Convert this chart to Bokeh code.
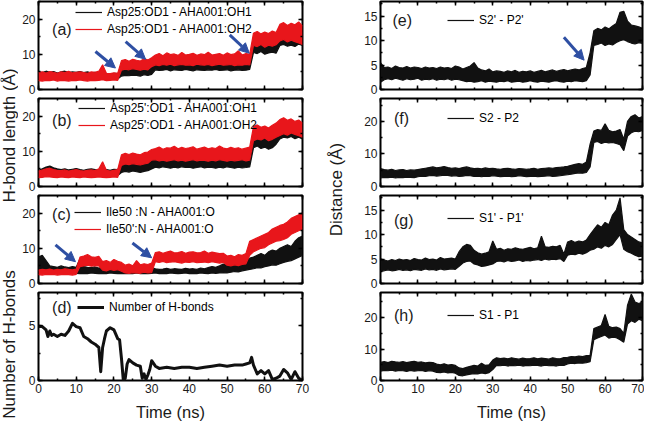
import numpy as np
from bokeh.plotting import figure
from bokeh.models import (LinearAxis, SingleIntervalTicker, Range1d, Legend,
                          LegendItem, Label, Arrow, NormalHead, ColumnDataSource)
from bokeh.layouts import row, column
from bokeh.embed import file_html
from bokeh.resources import INLINE

# ---------------- data (1 ns sampling) ----------------
time_ns = list(range(71))

# (a) Asp25:OD1 - AHA001:OH1 (black), OH2 (red): band low / high
a_oh1_lo = ([3.2,3.0,3.3,3.1,3.4,3.2,3.0,3.3,3.1,3.2,3.0,3.3,3.1,3.2,3.0,3.2]
            + [3.0,3.1,2.9,3.0,3.1,3.0]
            + [3.8,4.0,3.9,4.1,4.0,3.8,4.2,4.0,4.3]
            + [5.6,5.4,5.5,5.7,5.3,5.6,5.5,5.4,5.7,5.5,5.3,5.6,5.5,5.4,5.6,5.5,5.7,5.4,5.5,5.6,5.3,5.5,5.6,5.4,5.5,5.7]
            + [10.5,10.2,10.8,10.0,10.4,10.6,10.3]
            + [12.5,12.8,12.3,12.6,12.2,12.9,12.5])
a_oh1_hi = ([5.0,4.8,5.2,4.9,5.1,4.7,5.0,5.2,4.8,5.0,4.9,5.1,4.8,5.0,4.7,4.9]
            + [4.6,4.8,4.5,4.4,4.6,4.5]
            + [5.8,6.2,6.0,6.3,5.9,6.1,6.4,6.0,6.2]
            + [7.6,7.4,7.8,7.5,7.7,7.3,7.6,7.5,7.8,7.4,7.6,7.5,7.7,7.3,7.6,7.8,7.5,7.4,7.6,7.7,7.5,7.3,7.6,7.8,7.5,7.6]
            + [13.5,13.8,13.2,14.0,13.6,13.4,13.9]
            + [15.5,16.2,15.8,16.5,15.6,16.0,16.3])
a_oh2_lo = ([2.5,2.4,2.6,2.5,2.7,2.4,2.6,2.5,2.4,2.6,2.5,2.7,2.5,2.4,2.6,2.5]
            + [2.6,2.8,2.5,2.6,2.7,2.6]
            + [5.5,5.8,5.6,5.9,5.7,5.5,5.8,5.6,6.5]
            + [7.0,6.8,7.1,6.9,7.2,6.8,7.0,7.1,6.9,7.0,6.8,7.2,7.0,6.9,7.1,6.8,7.0,7.2,6.9,7.0,7.1,6.8,7.0,6.9,7.1,7.0]
            + [12.5,12.2,12.8,12.0,12.6,12.3,12.7]
            + [13.8,14.2,13.5,14.0,13.6,13.2,12.8])
a_oh2_hi = ([4.8,5.0,4.7,5.1,4.9,4.6,5.0,4.8,5.2,4.7,4.9,5.0,4.8,4.6,5.0,4.9]
            + [5.2,7.0,4.6,4.5,4.7,4.6]
            + [8.2,8.5,8.0,8.6,8.3,8.1,8.7,8.4,9.0]
            + [9.8,10.2,9.6,10.4,9.9,10.1,9.7,10.5,9.8,10.0,10.3,9.7,10.1,9.9,10.6,9.8,10.0,10.2,9.7,10.4,9.9,10.1,11.0,9.8,10.2,10.0]
            + [16.0,16.5,15.8,16.3,15.9,16.6,16.2]
            + [18.5,19.0,18.2,18.8,18.4,19.2,18.0])

# (b) Asp25':OD1 - AHA001:OH1 (black), OH2 (red)
b_oh1_lo = ([2.8,3.0,3.2,3.3,3.1,3.0,3.2,2.9,3.1,3.0,3.2,3.1,2.9,3.0,3.2,3.1,3.0,3.2,3.1,2.9,3.0,3.1]
            + [4.0,4.3,4.1,4.4,4.2,4.0,4.3,4.5,5.0]
            + [5.5,5.3,5.6,5.4,5.2,5.5,5.3,5.6,5.4,5.5,5.2,5.4,5.6,5.3,5.5,5.4,5.2,5.5,5.3,5.6,5.4,5.2,5.5,5.3,5.4,5.6]
            + [11.0,11.5,10.8,11.2,10.6,11.0,12.0]
            + [13.5,14.0,13.8,14.2,13.6,14.0,13.5])
b_oh1_hi = ([4.5,5.0,5.5,5.8,5.3,5.0,4.8,5.0,4.7,4.9,5.1,4.8,4.6,4.9,5.0,4.8,4.7,5.0,4.8,4.6,4.9,4.8]
            + [6.5,7.0,6.6,6.9,6.7,6.4,6.8,7.0,7.5]
            + [8.4,8.2,8.6,8.1,8.5,8.3,8.0,8.4,8.2,8.6,8.3,8.1,8.5,8.2,8.4,8.0,8.3,8.5,8.1,8.4,8.2,8.0,8.3,8.5,8.1,8.2]
            + [14.5,15.0,14.2,14.8,14.0,14.6,15.5]
            + [16.5,17.0,16.8,17.2,16.6,16.9,16.5])
b_oh2_lo = ([2.5,2.6,2.8,2.7,2.6,2.5,2.7,2.6,2.5,2.7,2.6,2.5,2.7,2.6,2.5,2.6,2.7,2.6,2.5,2.6,2.7,2.6]
            + [6.0,6.4,6.2,6.5,6.3,6.1,6.4,6.6,7.5]
            + [7.6,7.3,7.5,7.2,7.4,7.6,7.3,7.5,7.2,7.4,7.6,7.3,7.5,7.4,7.2,7.5,7.3,7.6,7.4,7.2,7.5,7.3,7.4,7.6,7.3,7.5]
            + [13.0,13.5,13.2,13.8,13.0,13.4,14.0]
            + [14.5,15.0,14.6,15.2,14.8,14.4,14.0])
b_oh2_hi = ([4.4,4.7,5.0,5.2,4.8,4.6,4.5,4.7,4.4,4.6,4.8,4.5,4.4,4.6,4.7,4.5,5.0,7.0,4.6,4.4,4.6,4.8]
            + [9.0,9.4,9.1,9.5,9.2,9.0,9.6,9.8,10.5]
            + [10.8,11.2,10.6,11.0,10.9,11.4,10.7,11.1,10.8,11.0,11.3,10.6,10.9,11.2,10.7,11.0,10.8,11.5,10.9,10.7,11.1,10.8,11.0,10.6,10.9,11.2]
            + [17.0,17.5,16.8,17.2,16.6,17.4,18.0]
            + [19.0,19.5,18.8,19.2,18.5,18.9,18.0])

# (c) Ile50 :N - AHA001:O (black), Ile50':N - AHA001:O (red)
c_ile50_lo = ([3.5,3.2,3.0,2.9,3.0,2.8,3.0,2.9,2.8,3.0,2.9]
              + [2.8,2.9,2.8,3.0,2.9,2.8,2.9,2.8,3.0,2.9,2.8,2.9]
              + [2.8,2.9,2.8,3.0,2.8,2.9,2.8,2.9,3.0,2.8,2.9,2.8,3.0,2.9,2.8,2.9,3.0,2.8,2.9,2.8,3.0,2.9,2.8,3.0,2.9,3.0,3.1,3.0]
              + [3.2,3.4,3.3,3.6,3.8,4.0,4.2,4.5,4.4,4.8,5.0,5.3,5.2,5.6,6.0,6.3,6.5,7.0,7.5,8.0])
c_ile50_hi = ([7.5,8.0,6.5,5.0,4.8,4.6,5.0,4.7,4.5,4.8,4.6]
              + [7.0,4.8,4.6,4.5,4.7,4.4,4.6,4.5,4.4,4.6,4.5,4.4]
              + [4.2,4.0,4.3,4.1,4.0,4.2,4.1,4.5,4.2,4.0,4.1,4.3,4.0,4.2,4.1,4.0,4.3,4.1,4.2,4.0,4.4,4.2,4.5,4.8,4.6,5.0,5.5,5.2]
              + [5.8,6.0,5.6,6.5,7.0,7.2,7.5,8.0,8.5,8.0,9.0,9.5,9.2,10.0,10.5,11.0,10.5,12.0,13.0,13.5])
c_ile50p_lo = ([2.5,2.4,2.6,2.5,2.6,2.4,2.5,2.6,2.5,2.4,2.6]
               + [4.8,5.0,5.2,4.9,5.1,5.0]
               + [3.8,3.6,4.0,3.7,3.9,3.5]
               + [3.0,2.9,3.1,3.0,2.9,3.2,3.0,3.1]
               + [6.2,6.0,6.3,5.9,6.1,6.2,6.0,5.8,6.1,6.0,6.2,5.9,6.0,6.1,5.9,6.2,6.0,5.8,6.0]
               + [5.2,5.0,5.3,5.1,5.4,5.6]
               + [8.0,9.0,9.5,10.0,10.2,11.0,11.5,12.0,12.2,12.5,13.0,14.0,14.5,15.0,15.5])
c_ile50p_hi = ([3.8,4.0,3.9,4.1,3.8,4.0,3.9,4.2,4.0,3.9,4.1]
               + [7.5,7.8,8.2,7.6,7.4,7.7]
               + [6.2,6.5,6.0,6.8,6.3,6.0]
               + [5.2,5.5,5.0,6.5,5.3,5.6,5.4,5.8]
               + [8.8,9.0,8.6,8.9,9.2,8.7,8.8,9.1,8.6,8.9,9.0,8.7,8.8,9.2,8.6,8.9,8.7,8.5,8.6]
               + [7.8,8.0,7.6,8.2,8.0,8.5]
               + [12.0,12.5,13.0,13.5,14.0,14.5,15.5,16.0,16.5,16.8,17.5,18.5,19.0,19.5,20.0])

# (d) Number of H-bonds
d_time = [0,1,2,2.5,3,3.5,4,5,6,7,8,9,10,11,12,13,14,15,16,16.5,17,17.5,18,19,20,21,21.5,22,22.5,23,
          23.5,24,25,26,27,27.5,28,28.5,29,29.5,30,31,32,34,36,38,40,42,44,46,48,50,52,54,55,56,56.5,57,57.5,58,
          59,60,61,62,63,64,65,66,67,68,69,70]
d_count = [4.9,4.9,4.6,4.0,4.5,4.1,4.2,4.0,4.2,4.1,4.5,5.2,4.9,4.8,4.0,3.8,3.5,3.3,3.0,0.8,3.0,3.8,4.5,4.8,4.6,3.8,3.7,2.0,0.0,0.2,
           1.5,1.9,1.6,1.4,1.3,0.2,0.6,0.1,0.5,1.0,1.8,1.3,1.1,1.2,1.1,1.2,1.2,1.1,1.2,1.3,1.4,1.3,1.4,1.4,1.5,1.6,2.1,1.4,1.0,0.6,
           0.9,0.6,0.9,0.1,0.2,0.4,1.0,0.7,0.1,0.8,0.2,0.0]

# (e) S2' - P2'
e_lo = ([1.5,2.0,2.2,2.0,2.3,2.1,1.9,2.2,2.0,2.1,2.3,1.9,2.1,2.0,2.2,1.9,2.1,2.0,2.2,1.9,2.1,2.0]
        + [1.8,1.6,1.7,1.5,1.6,1.8,1.5,1.7,1.6,1.5,1.7,1.6,1.8,1.5,1.6,1.7,1.5,1.6,1.8,1.6,1.5,1.7,1.6,1.5,1.7,1.8,1.6,1.5,1.7,1.6,1.8,1.7,1.6,1.8]
        + [3.0,9.0,9.2,9.5,9.0,9.3,9.1,9.6,10.0,10.2,9.8,9.5,9.3,9.6,9.4])
e_hi = ([5.5,4.5,4.6,4.3,4.8,4.5,4.4,4.7,4.4,4.6,4.5,4.3,4.6,4.4,4.5,4.3,4.6,4.4,4.5,4.3,4.8,4.6]
        + [4.2,4.5,4.8,5.5,4.4,4.0,3.8,4.2,3.6,3.8,3.7,3.5,3.8,3.6,3.9,3.5,3.7,3.6,3.8,3.5,3.7,3.9,3.6,3.8,4.0,3.7,3.9,4.1,3.8,4.0,4.2,4.0,4.3,4.5]
        + [7.5,12.0,12.5,12.2,12.8,12.4,13.0,13.5,15.8,16.0,14.0,13.2,13.0,12.8,12.5])

# (f) S2 - P2
f_lo = ([2.6,2.8,2.7,2.9,2.6,2.8,2.7,2.9,2.8,2.7]
        + [3.0,3.2,3.1,3.3,3.4,3.2,3.3,3.5,3.4,3.2,3.3,3.1,3.2,3.4,3.3,3.1,3.2,3.0,3.2,3.1,3.3,3.2,3.0,3.1,3.2,3.0,3.1,3.3,3.2,3.0,3.1,3.2,3.0,3.1,3.2,3.3,3.1,3.2,3.3,3.5]
        + [3.6,3.8,4.0,4.2,4.1,4.3,6.0,13.5,13.8,13.2,13.6,13.4,13.5,13.2,12.8,11.0,15.5,16.5,17.0,16.8,17.2])
f_hi = ([5.5,5.2,5.0,5.3,4.9,5.1,5.2,4.9,5.1,5.0]
        + [5.2,5.4,5.6,5.8,6.0,5.7,5.9,6.1,5.8,5.6,5.7,5.5,5.8,6.0,5.7,5.5,5.6,5.4,5.7,5.5,5.6,5.4,5.3,5.5,5.6,5.4,5.3,5.5,5.4,5.3,5.4,5.6,5.3,5.5,5.6,5.7,5.6,5.8,5.9,6.0]
        + [6.2,6.5,6.8,7.0,6.8,7.5,13.0,17.0,17.5,17.2,19.2,17.2,16.8,17.0,17.5,14.5,20.0,21.5,22.0,21.0,21.5])

# (g) S1' - P1'
g_lo = ([2.5,2.6,2.8,2.6,2.7,2.9,2.7,2.8,2.6,2.9,2.8,2.7,3.0,2.8,2.9,2.7,3.0,2.8,2.9,3.0,2.9]
        + [3.5,4.2,4.5,4.6,4.0,3.8,3.5,3.6,3.8,4.0]
        + [4.5,4.6,4.4,4.7,4.5,4.6,4.8,4.5,4.7,4.6,4.8,4.9,4.7,5.0,4.8,5.0,4.9,5.1]
        + [4.5,5.8,6.0,5.9,6.2,6.0,6.3,6.8,7.0,7.5,7.2,7.8,7.5,8.0,9.0,10.0,7.0,6.5,6.2,5.8,5.5,5.6])
g_hi = ([5.0,4.8,4.6,4.9,4.7,5.0,4.8,4.9,4.7,5.1,4.9,4.8,5.2,4.9,5.0,4.8,5.3,5.0,5.1,5.2,5.0]
        + [6.5,7.5,8.0,7.8,6.8,6.3,6.0,6.2,6.5,8.7]
        + [7.0,7.2,6.8,7.1,7.0,7.3,7.1,7.0,7.2,7.4,7.1,7.3,9.7,7.5,7.4,7.6,7.5,7.8]
        + [6.0,8.5,8.8,8.4,8.7,8.5,8.9,10.0,11.0,12.0,11.5,12.5,12.0,14.0,15.0,17.5,11.0,10.0,9.5,9.0,8.5,8.3])

# (h) S1 - P1
h_lo = ([3.0,3.2,3.1,3.3,3.0,3.2,3.1,2.9,3.2,3.0,3.1,3.2,2.9,3.1,3.0]
        + [2.6,2.5,2.7,2.4,2.6,2.3]
        + [1.6,1.5,1.8,2.0,2.2,2.1,2.4,2.2,2.5]
        + [3.5,4.8,4.7,4.9,4.6,4.8,4.7,4.9,4.6,4.8,4.7,4.9,4.8,4.6,4.9,4.7,4.8,4.6,4.9,4.8]
        + [5.3,5.5,5.4,5.6,5.5,5.7,6.0,13.0,13.5,14.0,14.5,13.5,13.8,13.6,13.0,12.2,18.0,19.0,18.5,19.5,19.0])
h_hi = ([5.8,6.0,5.7,6.1,5.9,5.8,6.0,5.7,5.9,6.1,5.8,5.9,5.6,5.8,5.7]
        + [5.2,5.0,5.3,4.9,5.1,4.8]
        + [4.0,3.8,4.2,4.5,4.8,4.6,5.5,4.8,5.0]
        + [6.5,7.2,7.0,7.1,6.9,7.2,7.0,6.8,7.1,6.9,7.0,7.2,6.9,7.1,7.0,6.8,7.2,7.0,6.9,7.3]
        + [7.4,7.6,7.5,7.8,7.6,7.9,8.0,16.5,17.0,17.5,21.0,17.2,16.8,17.0,16.5,15.0,24.0,27.5,25.0,24.5,25.0])

# arrows (x_start, y_start, x_end, y_end) in data units
arrows_a = [(15.1, 10.8, 20.4, 6.1), (23.1, 13.6, 28.4, 8.6), (50.7, 15.5, 55.9, 10.3)]
arrows_c = [(4.5, 11.0, 9.8, 6.2), (24.9, 11.5, 30.0, 7.3)]
arrows_e = [(49.0, 10.7, 54.4, 6.0)]

for arr in [a_oh1_lo, a_oh1_hi, a_oh2_lo, a_oh2_hi, b_oh1_lo, b_oh1_hi, b_oh2_lo, b_oh2_hi,
            c_ile50_lo, c_ile50_hi, c_ile50p_lo, c_ile50p_hi, e_lo, e_hi, f_lo, f_hi,
            g_lo, g_hi, h_lo, h_hi]:
    assert len(arr) == 71, len(arr)
assert len(d_time) == len(d_count)

# ---------------- styling ----------------
FONT = "Liberation Sans"
RED = "#E8161B"
BLK = "#111111"
BLUE = "#2E4FA3"
FH = 88


def style_axis(ax, interval, show_labels):
    ax.ticker = SingleIntervalTicker(interval=interval, num_minor_ticks=2)
    ax.axis_line_color = None
    ax.major_tick_in = 4
    ax.major_tick_out = 0
    ax.minor_tick_in = 2
    ax.minor_tick_out = 0
    ax.major_tick_line_color = "black"
    ax.minor_tick_line_color = "black"
    ax.major_tick_line_width = 1.5
    ax.minor_tick_line_width = 1.5
    if show_labels:
        ax.major_label_text_font = FONT
        ax.major_label_text_font_size = "12px"
        ax.major_label_text_color = "#1a1a1a"
        ax.major_label_standoff = 3
    else:
        ax.major_label_text_font_size = "0px"
        ax.major_label_text_color = None
        ax.major_label_text_alpha = 0
        ax.major_label_standoff = 0


def panel(ymax, yint, xlabels, left, right, top, bottom, fw):
    p = figure(frame_width=fw, frame_height=FH, x_range=Range1d(0, 70), y_range=Range1d(0, ymax),
               output_backend="svg", toolbar_location=None,
               min_border_left=left, min_border_right=right,
               min_border_top=top, min_border_bottom=bottom)
    p.grid.visible = False
    p.outline_line_color = "black"
    p.outline_line_width = 2
    p.background_fill_color = "white"
    p.border_fill_color = "white"
    style_axis(p.xaxis[0], 10, xlabels)
    style_axis(p.yaxis[0], yint, True)
    if xlabels:
        ax = p.xaxis[0]
        ax.axis_label = "Time (ns)"
        ax.axis_label_text_font = FONT
        ax.axis_label_text_font_size = "16.5px"
        ax.axis_label_text_font_style = "normal"
        ax.axis_label_text_color = "#1a1a1a"
        ax.axis_label_standoff = 7
    top_ax = LinearAxis()
    style_axis(top_ax, 10, False)
    p.add_layout(top_ax, "above")
    right_ax = LinearAxis()
    style_axis(right_ax, yint, False)
    p.add_layout(right_ax, "right")
    return p


def band(p, lo, hi, color):
    src = ColumnDataSource(dict(t=time_ns, lo=lo, hi=hi))
    p.varea(x="t", y1="lo", y2="hi", source=src, fill_color=color)
    r = p.line("t", "lo", source=src, line_color=color, line_width=1.2)
    p.line("t", "hi", source=src, line_color=color, line_width=1.2)
    return r


def add_legend(p, items, x, y):
    leg = Legend(items=[LegendItem(label=l, renderers=[r]) for l, r in items],
                 location=(x, y), padding=0, margin=0, spacing=3,
                 glyph_width=27, glyph_height=14, label_height=14, label_standoff=5,
                 label_text_font=FONT, label_text_font_size="12px", label_text_color="black",
                 border_line_alpha=0, background_fill_alpha=0)
    p.add_layout(leg)


def tag(p, x, y, text):
    p.add_layout(Label(x=x, y=y, text=text, text_font=FONT, text_font_size="16px",
                       text_baseline="middle", text_align="left", text_color="#1a1a1a"))


def add_arrows(p, arrows):
    for x0, y0, x1, y1 in arrows:
        p.add_layout(Arrow(end=NormalHead(size=10, fill_color=BLUE, line_color=BLUE),
                           x_start=x0, y_start=y0, x_end=x1, y_end=y1,
                           line_color=BLUE, line_width=3))


LW, LR = 20, 22     # left column borders
RW, RR = 32, 2      # right column borders
FWL, FWR = 264, 262
TB, BB = 1, 8       # top / bottom borders of inner panels

# left column
pa = panel(25, 10, False, LW, LR, TB, BB, FWL)
r1 = band(pa, a_oh1_lo, a_oh1_hi, BLK)
r2 = band(pa, a_oh2_lo, a_oh2_hi, RED)
add_legend(pa, [("Asp25:OD1 - AHA001:OH1", r1), ("Asp25:OD1 - AHA001:OH2", r2)], 37, 53)
tag(pa, 3.6, 17.0, "(a)")
add_arrows(pa, arrows_a)

pb = panel(25, 10, False, LW, LR, TB, BB, FWL)
r1 = band(pb, b_oh1_lo, b_oh1_hi, BLK)
r2 = band(pb, b_oh2_lo, b_oh2_hi, RED)
add_legend(pb, [("Asp25':OD1 - AHA001:OH1", r1), ("Asp25':OD1 - AHA001:OH2", r2)], 40, 54)
tag(pb, 3.6, 18.8, "(b)")

pc = panel(25, 10, False, LW, LR, TB, BB, FWL)
r1 = band(pc, c_ile50_lo, c_ile50_hi, BLK)
r2 = band(pc, c_ile50p_lo, c_ile50p_hi, RED)
add_legend(pc, [("Ile50 :N - AHA001:O", r1), ("Ile50':N - AHA001:O", r2)], 36, 47)
tag(pc, 3.6, 19.6, "(c)")
add_arrows(pc, arrows_c)

pd = panel(8, 5, True, LW, LR, TB, 44, FWL)
rd = pd.line(d_time, d_count, line_color=BLK, line_width=3, line_join="round")
add_legend(pd, [("Number of H-bonds", rd)], 39, 66)
tag(pd, 3.6, 6.6, "(d)")

# right column
pe = panel(18, 5, False, RW, RR, TB, BB, FWR)
re_ = band(pe, e_lo, e_hi, BLK)
add_legend(pe, [("S2' - P2'", re_)], 67, 62)
tag(pe, 3.2, 14.1, "(e)")
add_arrows(pe, arrows_e)

pf = panel(27, 10, False, RW, RR, TB, BB, FWR)
rf = band(pf, f_lo, f_hi, BLK)
add_legend(pf, [("S2 - P2", rf)], 67, 61)
tag(pf, 3.6, 20.9, "(f)")

pg = panel(18, 5, False, RW, RR, TB, BB, FWR)
rg = band(pg, g_lo, g_hi, BLK)
add_legend(pg, [("S1' - P1'", rg)], 67, 58)
tag(pg, 3.6, 12.8, "(g)")

ph = panel(28, 10, True, RW, RR, TB, 44, FWR)
rh = band(ph, h_lo, h_hi, BLK)
add_legend(ph, [("S1 - P1", rh)], 67, 58)
tag(ph, 3.6, 20.6, "(h)")

TOTAL_H = 4 * FH + 4 * TB + 3 * BB + 44


def label_fig(width, labels):
    f = figure(width=width, height=TOTAL_H, x_range=Range1d(0, 1), y_range=Range1d(0, TOTAL_H),
               x_axis_type=None, y_axis_type=None, output_backend="svg", toolbar_location=None,
               min_border=0)
    f.grid.visible = False
    f.outline_line_color = None
    f.border_fill_color = "white"
    for y, text in labels:
        f.add_layout(Label(x=0.5, y=y, text=text, angle=np.pi / 2, text_align="center",
                           text_baseline="middle", text_font=FONT, text_font_size="17px",
                           text_color="#1a1a1a"))
    return f


lab_left = label_fig(18, [(TOTAL_H - 135, "H-bond length (Å)"), (TOTAL_H - 344, "Number of H-bonds")])
lab_mid = label_fig(24, [(TOTAL_H - 189, "Distance (Å)")])

layout = row(lab_left, column(pa, pb, pc, pd), lab_mid, column(pe, pf, pg, ph))

open("out.html", "w").write(file_html(layout, INLINE))
